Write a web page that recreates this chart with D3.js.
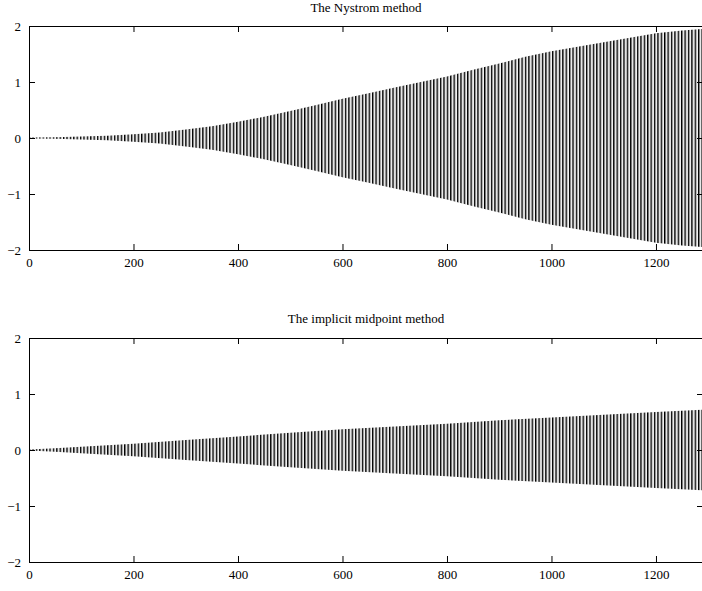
<!DOCTYPE html>
<html>
<head>
<meta charset="utf-8">
<script src="https://cdn.jsdelivr.net/npm/d3@7"></script>
<style>
  body { margin: 0; background: #fff; }
  svg { display: block; }
  text { font-family: "Liberation Serif", "Times New Roman", serif; font-size: 13px; fill: #000; }
</style>
</head>
<body>
<svg id="chart" width="702" height="591"></svg>
<script>
// Axis ticks
const xTicks = [0, 200, 400, 600, 800, 1000, 1200];
const yTicks = [-2, -1, 0, 1, 2];
const xDomain = [0, 1290];
const yDomain = [-2, 2];

// Oscillation amplitude (envelope) of each numerical solution
const nystromX   = [0, 50, 100, 150, 200, 250, 300, 350, 400, 450, 500, 550, 600, 650, 700, 750, 800, 850, 900, 950, 1000, 1050, 1100, 1150, 1200, 1250, 1290];
const nystromAmp = [0.01, 0.012, 0.025, 0.04, 0.065, 0.10, 0.15, 0.21, 0.29, 0.38, 0.48, 0.59, 0.70, 0.80, 0.90, 1.00, 1.10, 1.22, 1.33, 1.45, 1.55, 1.63, 1.71, 1.79, 1.87, 1.92, 1.95];

const midpointX   = [0, 50, 100, 200, 300, 400, 500, 600, 700, 800, 900, 1000, 1100, 1200, 1290];
const midpointAmp = [0.01, 0.03, 0.06, 0.11, 0.18, 0.24, 0.31, 0.37, 0.42, 0.47, 0.53, 0.58, 0.63, 0.68, 0.72];

// Length of one oscillation in time steps
const cycleLength = 6.5;

const titles = ["The Nystrom method", "The implicit midpoint method"];

const panels = [
  { title: titles[0], xs: nystromX, amps: nystromAmp, top: 26, bottom: 250, titleY: 12 },
  { title: titles[1], xs: midpointX, amps: midpointAmp, top: 338, bottom: 562, titleY: 323 }
];

const svg = d3.select("#chart");
const left = 29, right = 703;
const x = d3.scaleLinear().domain(xDomain).range([left, right]);

const defs = svg.append("defs");
const period = x(cycleLength) - x(0);
const pat = defs.append("pattern")
  .attr("id", "osc")
  .attr("patternUnits", "userSpaceOnUse")
  .attr("x", x(0))
  .attr("width", period)
  .attr("height", 20);
pat.append("rect").attr("width", period).attr("height", 20).attr("fill", "#fff");
pat.append("rect").attr("width", period * 0.4).attr("height", 20).attr("fill", "#000");
pat.append("rect").attr("x", period * 0.66).attr("width", period * 0.12).attr("height", 20).attr("fill", "#aaa");

panels.forEach((p, i) => {
  const y = d3.scaleLinear().domain(yDomain).range([p.bottom, p.top]);
  const g = svg.append("g");

  defs.append("clipPath").attr("id", "clip" + i)
    .append("rect")
    .attr("x", left).attr("y", p.top)
    .attr("width", right - left).attr("height", p.bottom - p.top);

  const data = p.xs.map((v, k) => ({ x: v, a: p.amps[k] }));
  const area = d3.area()
    .x(d => x(d.x))
    .y0(d => y(-d.a))
    .y1(d => y(d.a));

  g.append("path")
    .datum(data)
    .attr("clip-path", "url(#clip" + i + ")")
    .attr("d", area)
    .attr("fill", "url(#osc)");

  const styleAxis = sel => {
    sel.attr("font-family", null).attr("font-size", null);
    sel.selectAll(".domain").attr("stroke", "#000").attr("stroke-width", 1);
    sel.selectAll(".tick line").attr("stroke", "#000").attr("stroke-width", 1);
    sel.selectAll("text").attr("fill", "#000");
  };

  g.append("g")
    .attr("transform", `translate(0,${p.bottom})`)
    .call(d3.axisBottom(x).tickValues(xTicks).tickSizeInner(-6).tickSizeOuter(0).tickPadding(8).tickFormat(d3.format("d")))
    .call(styleAxis);

  g.append("g")
    .attr("transform", `translate(0,${p.top})`)
    .call(d3.axisTop(x).tickValues(xTicks).tickSizeInner(-6).tickSizeOuter(0).tickFormat(""))
    .call(styleAxis);

  g.append("g")
    .attr("transform", `translate(${left},0)`)
    .call(d3.axisLeft(y).tickValues(yTicks).tickSizeInner(-6).tickSizeOuter(0).tickPadding(8).tickFormat(d3.format("d")))
    .call(styleAxis);

  g.append("g")
    .attr("transform", `translate(${right},0)`)
    .call(d3.axisRight(y).tickValues(yTicks).tickSizeInner(-6).tickSizeOuter(0).tickFormat(""))
    .call(styleAxis);

  g.append("text")
    .attr("x", (left + right) / 2)
    .attr("y", p.titleY)
    .attr("text-anchor", "middle")
    .text(p.title);
});
</script>
</body>
</html>
